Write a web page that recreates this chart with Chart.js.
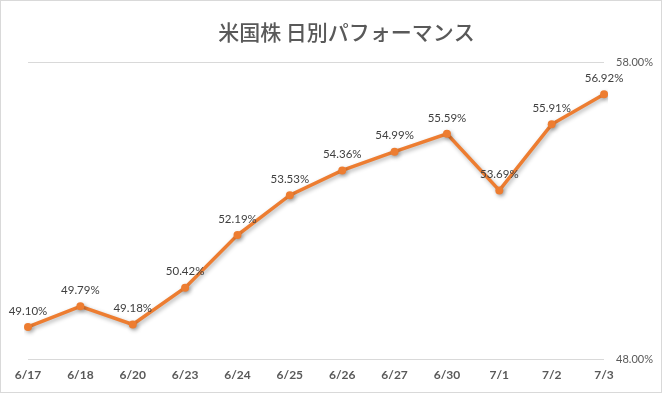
<!DOCTYPE html>
<html>
<head>
<meta charset="utf-8">
<script src="https://cdn.jsdelivr.net/npm/chart.js@4.4.1/dist/chart.umd.min.js"></script>
<style>
  html, body { margin: 0; padding: 0; background: #fff; }
  #wrap { position: relative; width: 662px; height: 393px; box-sizing: border-box; border: 1px solid #d9d9d9; }
</style>
</head>
<body>
<div id="wrap"><canvas id="perf-chart"></canvas></div>
<script>
const TITLE = "米国株 日別パフォーマンス";
const DATES = ["6/17", "6/18", "6/20", "6/23", "6/24", "6/25", "6/26", "6/27", "6/30", "7/1", "7/2", "7/3"];
const PERFORMANCE = [49.10, 49.79, 49.18, 50.42, 52.19, 53.53, 54.36, 54.99, 55.59, 53.69, 55.91, 56.92];
const Y_MIN = 48;
const Y_MAX = 58;

const LINE_COLOR = "#ED7D31";
const TEXT_COLOR = "#595959";

// soft drop shadow under the line, like the spreadsheet effect
const shadowPlugin = {
    id: "lineShadow",
    beforeDatasetsDraw(chart) {
        const ctx = chart.ctx;
        ctx.save();
        ctx.shadowColor = "rgba(0,0,0,0.3)";
        ctx.shadowBlur = 4;
        ctx.shadowOffsetX = 1.5;
        ctx.shadowOffsetY = 2;
    },
    afterDatasetsDraw(chart) {
        chart.ctx.restore();
    }
};

// value labels above each point
const valueLabels = {
    id: "valueLabels",
    afterDatasetsDraw(chart) {
        const ctx = chart.ctx;
        const meta = chart.getDatasetMeta(0);
        ctx.save();
        ctx.font = "11.5px Lato, 'Liberation Sans', sans-serif";
        ctx.fillStyle = "#404040";
        ctx.textAlign = "center";
        ctx.textBaseline = "middle";
        meta.data.forEach((pt, i) => {
            const v = chart.data.datasets[0].data[i];
            ctx.fillText(v.toFixed(2) + "%", pt.x, pt.y - 16);
        });
        ctx.restore();
    }
};

new Chart(document.getElementById("perf-chart"), {
    type: "line",
    data: {
        labels: DATES,
        datasets: [{
            data: PERFORMANCE,
            borderColor: LINE_COLOR,
            backgroundColor: LINE_COLOR,
            borderWidth: 3.5,
            pointRadius: 4,
            pointBorderWidth: 0,
            pointBackgroundColor: LINE_COLOR,
            tension: 0,
        }]
    },
    plugins: [shadowPlugin, valueLabels],
    options: {
        responsive: true,
        maintainAspectRatio: false,
        animation: false,
        layout: { padding: { left: 27, right: -4, top: 4, bottom: 2 } },
        plugins: {
            legend: { display: false },
            tooltip: { enabled: false },
            title: {
                display: true,
                text: TITLE,
                color: TEXT_COLOR,
                font: { family: "'Noto Sans CJK JP', sans-serif", size: 21, weight: "500" },
                padding: { top: 14, bottom: 18 }
            }
        },
        scales: {
            x: {
                offset: false,
                grid: { display: false, drawTicks: false },
                border: { display: false },
                ticks: {
                    color: TEXT_COLOR,
                    font: { family: "Lato, 'Liberation Sans', sans-serif", size: 12, weight: "bold" },
                    padding: 8,
                    maxRotation: 0,
                    autoSkip: false
                }
            },
            y: {
                position: "right",
                min: Y_MIN,
                max: Y_MAX,
                grid: { color: "#d9d9d9", drawTicks: false, lineWidth: 1 },
                border: { display: false },
                ticks: {
                    stepSize: 10,
                    color: TEXT_COLOR,
                    padding: 12,
                    font: { family: "Lato, 'Liberation Sans', sans-serif", size: 11 },
                    callback: (val) => val.toFixed(2) + "%"
                }
            }
        }
    }
});
</script>
</body>
</html>
